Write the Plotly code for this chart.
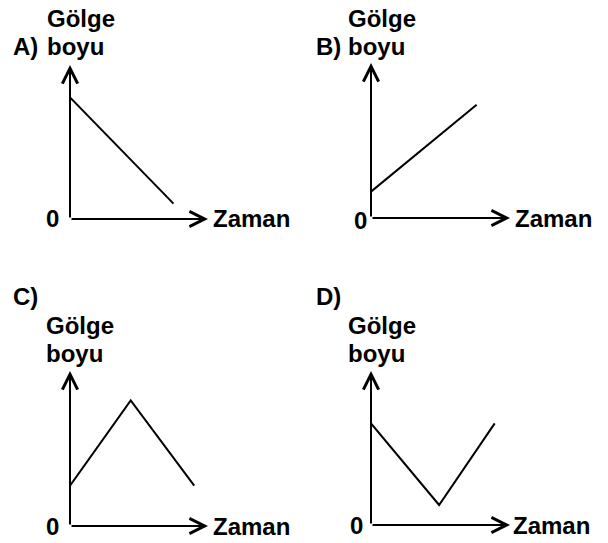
import plotly.graph_objects as go

W, H = 608, 543

# option labels and axis texts
labels = ['A)', 'B)', 'C)', 'D)']
y_title = ['Gölge', 'boyu']
x_title = 'Zaman'
origin_label = '0'

# shadow length vs time, in axis units (each axis runs 0..10)
time_A = [0, 7.5]
shadow_A = [7.9, 1.0]
time_B = [0, 7.6]
shadow_B = [1.7, 7.3]
time_C = [0, 4.4, 9.0]
shadow_C = [2.6, 8.1, 2.6]
time_D = [0, 4.9, 8.9]
shadow_D = [6.6, 1.3, 6.6]

AX_MAX = 10

# pixel boxes: (origin x, origin y, x arrow tip, y arrow tip)
boxes = [(70, 219, 208, 65), (371, 218, 510, 63),
         (70, 526, 208, 371), (371, 525, 510, 371)]

# label positions (px): option label, y title lines, "0", "Zaman"
label_pos = [(11, 46), (314, 46), (11, 296), (314, 296)]
title_pos = [((45, 18), (45, 46)), ((346, 18), (346, 46)),
             ((44, 325), (44, 353)), ((346, 325), (346, 353))]
zero_pos = [(52, 219), (360, 221), (52, 526), (356, 525)]
zaman_pos = [(211, 218), (513, 218), (211, 526), (511, 525)]


def px(x):
    return x / W


def py(y):
    return 1 - y / H


font = dict(family='Liberation Sans, Arial', size=24, color='black', weight='bold')

fig = go.Figure()
series = [(time_A, shadow_A), (time_B, shadow_B), (time_C, shadow_C), (time_D, shadow_D)]
annotations = []

for i, ((t, s), box) in enumerate(zip(series, boxes)):
    n = '' if i == 0 else str(i + 1)
    xa, ya = 'x' + n, 'y' + n
    ox, oy, tx, ty = box
    fig.add_trace(go.Scatter(x=t, y=s, mode='lines', xaxis=xa, yaxis=ya,
                             line=dict(color='black', width=2), showlegend=False,
                             hoverinfo='skip'))
    fig.update_layout(**{
        'xaxis' + n: dict(domain=[px(ox), px(tx)], range=[0, AX_MAX], visible=False,
                          anchor=ya, fixedrange=True),
        'yaxis' + n: dict(domain=[py(oy), py(ty)], range=[0, AX_MAX], visible=False,
                          anchor=xa, fixedrange=True),
    })
    # axes drawn as arrows
    for (hx, hy) in [(AX_MAX, 0), (0, AX_MAX)]:
        annotations.append(dict(x=hx, y=hy, ax=0, ay=0, xref=xa, yref=ya,
                                axref=xa, ayref=ya, text='', showarrow=True,
                                arrowhead=5, arrowsize=1.5, arrowwidth=2,
                                arrowcolor='black', standoff=0))
    lx, ly = label_pos[i]
    annotations.append(dict(x=px(lx), y=py(ly), xref='paper', yref='paper',
                            text=labels[i], showarrow=False, font=font,
                            xanchor='left', yanchor='middle'))
    for line, (gx, gy) in zip(y_title, title_pos[i]):
        annotations.append(dict(x=px(gx), y=py(gy), xref='paper', yref='paper',
                                text=line, showarrow=False, font=font,
                                xanchor='left', yanchor='middle'))
    zx, zy = zero_pos[i]
    annotations.append(dict(x=px(zx), y=py(zy), xref='paper', yref='paper',
                            text=origin_label, showarrow=False, font=font,
                            xanchor='center', yanchor='middle'))
    mx, my = zaman_pos[i]
    annotations.append(dict(x=px(mx), y=py(my), xref='paper', yref='paper',
                            text=x_title, showarrow=False, font=font,
                            xanchor='left', yanchor='middle'))

fig.update_layout(width=W, height=H, margin=dict(l=0, r=0, t=0, b=0),
                  paper_bgcolor='white', plot_bgcolor='rgba(0,0,0,0)',
                  annotations=annotations)

# drop the browser's default page margin so the figure sits at 0,0
fig.write_html('out.html', config={'displayModeBar': False},
               post_script="document.body.style.margin='0';")
